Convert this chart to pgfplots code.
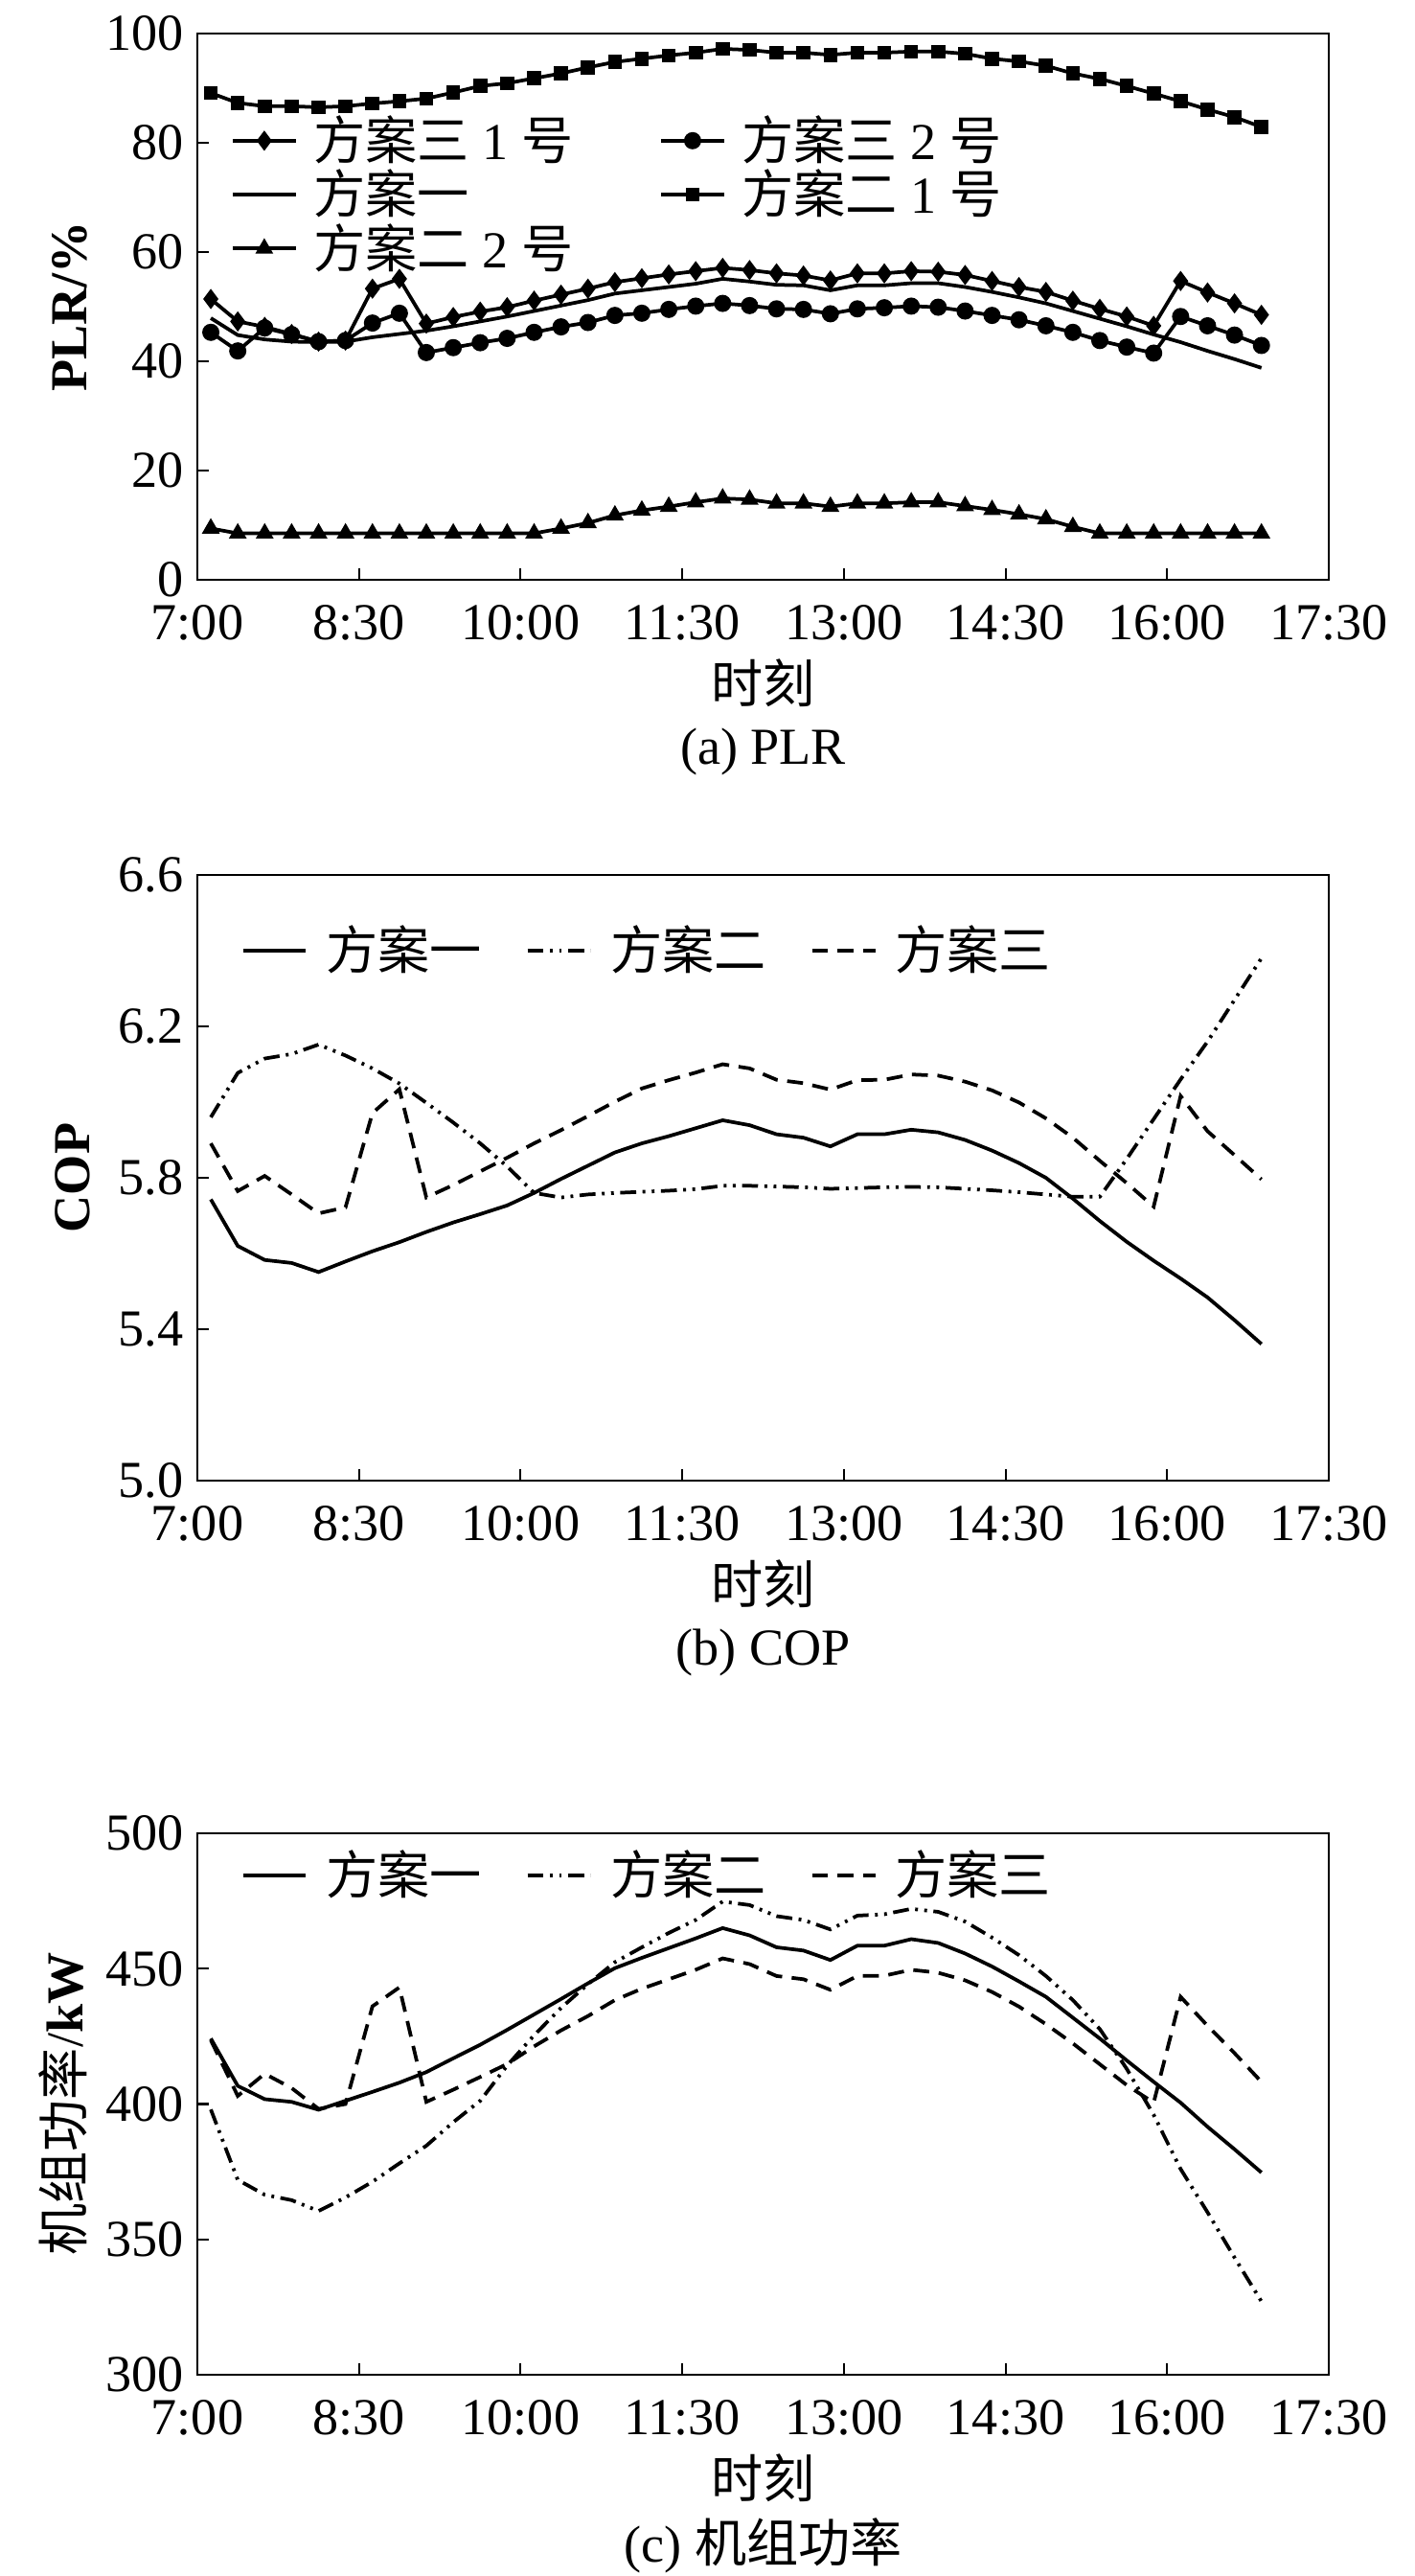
\documentclass[border=0pt]{standalone}
\usepackage{fontspec}
\setmainfont{Liberation Serif}
\newfontfamily\cjk{Noto Sans CJK SC}
\usepackage{pgfplots}
\usepackage{pgfplotstable}
\pgfplotsset{compat=1.18}

\pgfplotstableread{
x      s31   s32   s1    s21   s22
7.125  51.4  45.3  47.9  89.1  9.4
7.375  47.3  41.9  44.8  87.3  8.5
7.625  46.3  46.1  44.0  86.7  8.5
7.875  45.0  44.9  43.6  86.7  8.5
8.125  43.6  43.6  43.5  86.5  8.5
8.375  43.8  43.8  43.6  86.7  8.5
8.625  53.3  47.0  44.4  87.2  8.5
8.875  55.1  48.8  45.0  87.6  8.5
9.125  46.9  41.6  45.6  88.1  8.5
9.375  48.1  42.5  46.4  89.2  8.5
9.625  49.1  43.4  47.3  90.4  8.5
9.875  49.9  44.2  48.2  90.9  8.5
10.125 51.1  45.3  49.2  91.8  8.5
10.375 52.2  46.3  50.2  92.7  9.4
10.625 53.3  47.1  51.2  93.8  10.4
10.875 54.5  48.4  52.4  94.8  11.8
11.125 55.2  48.8  53.0  95.4  12.7
11.375 55.9  49.5  53.6  96.0  13.4
11.625 56.5  50.1  54.2  96.5  14.2
11.875 57.1  50.6  55.1  97.2  14.9
12.125 56.7  50.2  54.6  97.0  14.7
12.375 56.1  49.6  54.0  96.5  14.0
12.625 55.7  49.5  53.9  96.5  14.0
12.875 54.8  48.7  53.0  96.1  13.4
13.125 56.1  49.6  53.9  96.5  14.0
13.375 56.1  49.8  53.9  96.5  14.0
13.625 56.5  50.1  54.3  96.7  14.2
13.875 56.4  49.9  54.3  96.7  14.2
14.125 55.8  49.2  53.6  96.3  13.5
14.375 54.7  48.4  52.7  95.4  12.8
14.625 53.6  47.6  51.7  94.9  12.0
14.875 52.7  46.5  50.6  94.1  11.1
15.125 51.1  45.3  49.2  92.7  9.7
15.375 49.6  43.8  47.8  91.7  8.5
15.625 48.2  42.6  46.4  90.4  8.5
15.875 46.5  41.5  44.9  89.0  8.5
16.125 54.7  48.2  43.5  87.6  8.5
16.375 52.6  46.5  41.9  86.1  8.5
16.625 50.6  44.8  40.4  84.7  8.5
16.875 48.5  42.9  38.8  82.9  8.5
}\plr

\pgfplotstableread{
x      a      b      c
7.125  5.743  5.960  5.891
7.375  5.620  6.077  5.765
7.625  5.583  6.115  5.805
7.875  5.575  6.127  5.756
8.125  5.551  6.152  5.706
8.375  5.579  6.123  5.722
8.625  5.606  6.089  5.971
8.875  5.630  6.049  6.034
9.125  5.657  5.998  5.748
9.375  5.682  5.946  5.781
9.625  5.704  5.891  5.817
9.875  5.727  5.830  5.853
10.125 5.760  5.760  5.891
10.375 5.797  5.748  5.926
10.625 5.832  5.756  5.963
10.875 5.867  5.760  6.001
11.125 5.891  5.763  6.036
11.375 5.910  5.766  6.058
11.625 5.931  5.770  6.078
11.875 5.952  5.779  6.100
12.125 5.939  5.779  6.089
12.375 5.915  5.777  6.059
12.625 5.906  5.775  6.050
12.875 5.883  5.771  6.033
13.125 5.915  5.773  6.058
13.375 5.915  5.775  6.059
13.625 5.927  5.776  6.073
13.875 5.920  5.775  6.070
14.125 5.900  5.771  6.054
14.375 5.872  5.767  6.031
14.625 5.839  5.762  5.999
14.875 5.800  5.756  5.957
15.125 5.745  5.750  5.906
15.375 5.686  5.750  5.845
15.625 5.631  5.850  5.786
15.875 5.581  5.955  5.724
16.125 5.534  6.060  6.016
16.375 5.484  6.160  5.923
16.625 5.424  6.270  5.860
16.875 5.361  6.380  5.796
}\cop

\pgfplotstableread{
x      a      b      c
7.125  424.2  398.0  423.6
7.375  406.7  372.0  403.0
7.625  401.8  366.5  411.2
7.875  400.8  364.5  405.9
8.125  397.9  360.5  398.2
8.375  401.2  365.5  400.0
8.625  404.5  371.3  436.1
8.875  407.9  378.1  443.1
9.125  411.8  384.6  400.8
9.375  416.9  393.3  405.3
9.625  421.9  401.2  410.0
9.875  427.4  414.2  414.8
10.125 433.1  425.4  421.3
10.375 438.8  435.5  427.2
10.625 444.6  444.3  432.5
10.875 450.2  452.4  438.4
11.125 454.0  457.9  442.6
11.375 457.6  463.2  446.1
11.625 461.2  468.0  449.6
11.875 465.0  474.8  453.8
12.125 462.3  473.5  451.7
12.375 457.9  469.4  447.3
12.625 456.7  468.0  446.1
12.875 453.2  464.5  442.2
13.125 458.5  469.6  447.3
13.375 458.5  470.1  447.4
13.625 460.9  472.1  449.6
13.875 459.5  471.0  448.5
14.125 455.6  467.4  445.7
14.375 450.8  461.5  441.4
14.625 445.3  455.0  436.0
14.875 439.6  447.3  429.5
15.125 431.9  438.4  422.4
15.375 424.2  427.7  414.7
15.625 416.1  413.0  407.0
15.875 408.2  396.0  400.5
16.125 400.5  376.0  439.6
16.375 391.6  360.0  428.9
16.625 383.3  343.3  418.8
16.875 374.7  327.1  408.2
}\pwr

\newcommand{\fs}{\fontsize{13}{15}\selectfont}

\pgfplotsset{
  panel/.style={
    scale only axis, width=283.44pt,
    anchor=south west,
    xmin=7, xmax=17.5,
    xtick={7,8.5,10,11.5,13,14.5,16,17.5},
    xticklabels={7:00,8:30,10:00,11:30,13:00,14:30,16:00,17:30},
    tick align=inside, tick pos=left, major tick length=2.8pt,
    every tick/.style={line width=0.5pt, black},
    axis line style={line width=0.7pt},
    ticklabel style={font=\fs},
    xticklabel style={anchor=center, yshift=-10.8pt},
    xlabel={\cjk 时刻},
    xlabel style={at={(axis description cs:0.5,0)}, anchor=center, yshift=-25.8pt, font=\fs},
    ylabel style={anchor=center, font=\fs},
    legend cell align=left,
    legend image code/.code={\draw[mark repeat=2,mark phase=2,##1] plot coordinates {(0pt,0pt) (7.9pt,0pt) (15.8pt,0pt)};},
  },
  s2/.style={black, line width=0.9pt, dash pattern=on 4pt off 1.6pt on 0.7pt off 1.6pt on 0.7pt off 1.6pt},
  s3/.style={black, line width=0.9pt, dash pattern=on 4pt off 2.4pt},
  s1/.style={black, line width=0.9pt, solid},
}

\begin{document}
\begin{tikzpicture}
\path[use as bounding box] (0pt,0pt) rectangle (354.24pt,-645.12pt);

% (a) PLR
\begin{axis}[panel, at={(49.44pt,-145.2pt)}, height=136.8pt,
  ymin=0, ymax=100, ytick={0,20,40,60,80,100}, yticklabels={0,20,40,60,80,100},
  ylabel={\textbf{PLR/\%}},
  ylabel style={at={(axis description cs:-0.1126,0.5)}},
  legend columns=2,
  legend style={draw=none, fill=none, at={(axis description cs:0.029,0.851)}, anchor=north west,
    inner sep=0pt, font=\fs, row sep=1pt, nodes={inner sep=0pt},
    /tikz/every odd column/.append style={column sep=4pt},
    /tikz/every even column/.append style={column sep=21.6pt}},
]
\addplot[s1, mark=diamond*, mark size=1.8pt] table[x=x,y=s31]{\plr};
\addlegendentry{{\cjk 方案三} 1 {\cjk 号}}
\addplot[s1, mark=*, mark size=1.7pt] table[x=x,y=s32]{\plr};
\addlegendentry{{\cjk 方案三} 2 {\cjk 号}}
\addplot[s1] table[x=x,y=s1]{\plr};
\addlegendentry{\cjk 方案一}
\addplot[s1, mark=square*, mark size=1.3pt] table[x=x,y=s21]{\plr};
\addlegendentry{{\cjk 方案二} 1 {\cjk 号}}
\addplot[s1, mark=triangle*, mark size=1.7pt] table[x=x,y=s22]{\plr};
\addlegendentry{{\cjk 方案二} 2 {\cjk 号}}
\end{axis}
\node[font=\fs, anchor=center] at (191.16pt,-188.2pt) {(a) PLR};

% (b) COP
\begin{axis}[panel, at={(49.44pt,-370.8pt)}, height=151.68pt,
  ymin=5.0, ymax=6.6, ytick={5.0,5.4,5.8,6.2,6.6}, yticklabels={5.0,5.4,5.8,6.2,6.6},
  ylabel={\textbf{COP}},
  ylabel style={at={(axis description cs:-0.110,0.5)}},
  legend columns=3,
  legend style={draw=none, fill=none, at={(axis description cs:0.038,0.9176)}, anchor=north west,
    inner sep=0pt, font=\fs, nodes={inner sep=0pt},
    /tikz/every odd column/.append style={column sep=4.6pt},
    /tikz/every even column/.append style={column sep=11pt}},
]
\addplot[s1] table[x=x,y=a]{\cop};
\addlegendentry{\cjk 方案一}
\addplot[s2] table[x=x,y=b]{\cop};
\addlegendentry{\cjk 方案二}
\addplot[s3] table[x=x,y=c]{\cop};
\addlegendentry{\cjk 方案三}
\end{axis}
\node[font=\fs, anchor=center] at (191.16pt,-413.8pt) {(b) COP};

% (c) power
\begin{axis}[panel, at={(49.44pt,-594.72pt)}, height=135.6pt,
  ymin=300, ymax=500, ytick={300,350,400,450,500}, yticklabels={300,350,400,450,500},
  ylabel={{\cjk 机组功率}/\textbf{kW}},
  ylabel style={at={(axis description cs:-0.1185,0.5)}},
  legend columns=3,
  legend style={draw=none, fill=none, at={(axis description cs:0.038,0.970)}, anchor=north west,
    inner sep=0pt, font=\fs, nodes={inner sep=0pt},
    /tikz/every odd column/.append style={column sep=4.6pt},
    /tikz/every even column/.append style={column sep=11pt}},
]
\addplot[s1] table[x=x,y=a]{\pwr};
\addlegendentry{\cjk 方案一}
\addplot[s2] table[x=x,y=b]{\pwr};
\addlegendentry{\cjk 方案二}
\addplot[s3] table[x=x,y=c]{\pwr};
\addlegendentry{\cjk 方案三}
\end{axis}
\node[font=\fs, anchor=center] at (191.16pt,-637.4pt) {(c) {\cjk 机组功率}};
\end{tikzpicture}
\end{document}
